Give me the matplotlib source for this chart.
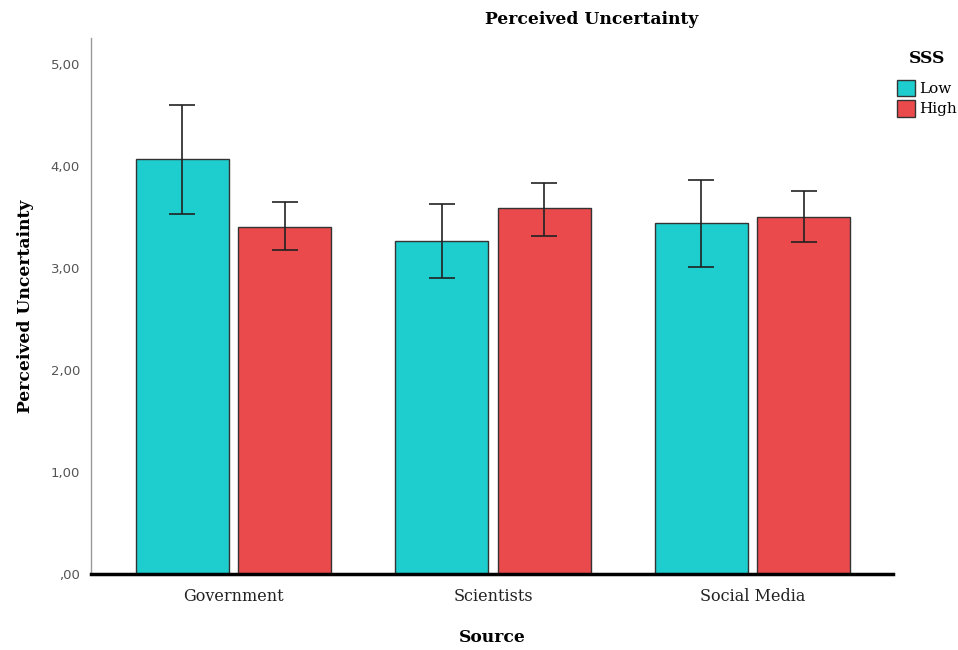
import matplotlib
matplotlib.use("Agg")
import matplotlib.pyplot as plt
import numpy as np
from matplotlib.patches import Patch

categories = ["Government", "Scientists", "Social Media"]
low_means = [4.06, 3.26, 3.44]
low_err_hi = [4.59, 3.62, 3.86]
low_err_lo = [3.53, 2.90, 3.01]
high_means = [3.40, 3.58, 3.50]
high_err_hi = [3.64, 3.83, 3.75]
high_err_lo = [3.17, 3.31, 3.25]
yticks = [0, 1, 2, 3, 4, 5]
ytick_labels = [",00", "1,00", "2,00", "3,00", "4,00", "5,00"]

teal = "#1ECDCD"
red = "#EB4A4D"
serif = "DejaVu Serif"

fig = plt.figure(figsize=(9.58, 6.5), dpi=100)
ax = fig.add_axes([91/958, 1-574/650, (893-91)/958, (574-38)/650])

x = np.arange(len(categories))
w = 0.358
off = 0.197

def draw(xs, means, hi, lo, color):
    ax.bar(xs, means, width=w, color=color, edgecolor="#333333", linewidth=1.0, zorder=2)
    means = np.array(means)
    yerr = [means - np.array(lo), np.array(hi) - means]
    ax.errorbar(xs, means, yerr=yerr, fmt="none", ecolor="#222222", elinewidth=1.2,
                capsize=9.7, capthick=1.2, zorder=3)

draw(x - off, low_means, low_err_hi, low_err_lo, teal)
draw(x + off, high_means, high_err_hi, high_err_lo, red)

ax.set_xlim(-0.549, 2.541)
ax.set_ylim(0, 5.25)
ax.set_yticks(yticks)
ax.set_yticklabels(ytick_labels, fontsize=9.5, color="#555555", family="DejaVu Sans")
ax.set_xticks(x)
ax.set_xticklabels(categories, fontsize=11.5, family=serif, color="#222222")
ax.tick_params(axis="y", length=0, pad=8)
ax.tick_params(axis="x", length=0, pad=10)

for s in ["top", "right"]:
    ax.spines[s].set_visible(False)
ax.spines["left"].set_color("#999999")
ax.spines["left"].set_linewidth(1.0)
ax.spines["bottom"].set_color("black")
ax.spines["bottom"].set_linewidth(2.5)
ax.spines["bottom"].set_zorder(4)

ax.set_ylabel("Perceived Uncertainty", fontsize=12.3, family=serif, fontweight="bold", labelpad=12)
fig.text(492/958, 1-638/650, "Source", ha="center", va="center",
         fontsize=12.3, family=serif, fontweight="bold")
fig.text(592/958, 1-19/650, "Perceived Uncertainty", ha="center", va="center",
         fontsize=12.3, family=serif, fontweight="bold")

handles = [Patch(facecolor=teal, edgecolor="#333333", label="Low"),
           Patch(facecolor=red, edgecolor="#333333", label="High")]
leg = fig.legend(handles=handles, title="SSS", loc="upper left",
                 bbox_to_anchor=(897/958, 1-50/650), frameon=False,
                 prop={"family": serif, "size": 11}, handlelength=1.2, handleheight=1.3,
                 handletextpad=0.25, labelspacing=0.25, borderpad=0, borderaxespad=0)
leg.get_title().set_fontfamily(serif)
leg.get_title().set_fontweight("bold")
leg.get_title().set_fontsize(12.3)
leg._legend_box.sep = 9

fig.savefig("out.png", dpi=100)
